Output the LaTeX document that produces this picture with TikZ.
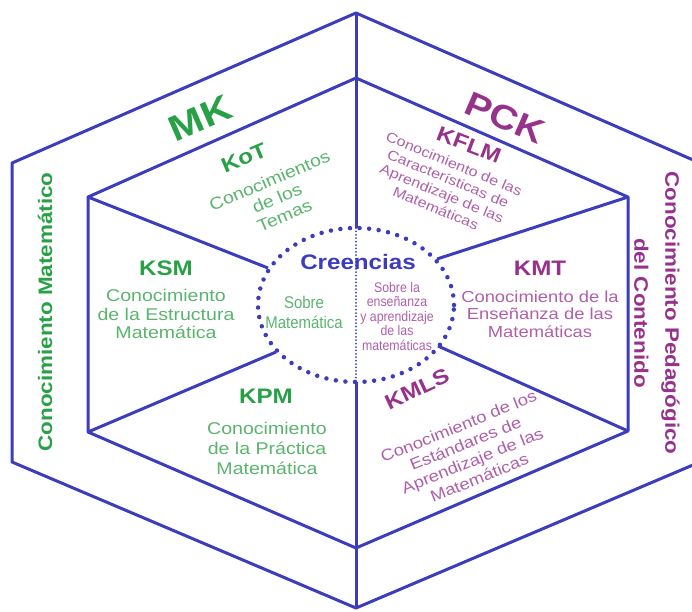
\documentclass[tikz,border=0pt]{standalone}
\usepackage{fontspec}
\setmainfont[FakeStretch=1.15]{Liberation Sans}
\newfontfamily\narrowfont[FakeStretch=0.88]{Liberation Sans}
\usepackage{tikz}
\newcommand{\fsz}[2]{\fontsize{#1}{#2}\selectfont}
\definecolor{hexblue}{RGB}{60,60,190}
\definecolor{mkgreen}{RGB}{40,160,70}
\definecolor{mklight}{RGB}{90,180,110}
\definecolor{pckpurple}{RGB}{150,50,140}
\definecolor{pcklight}{RGB}{175,95,170}
\tikzset{
every node/.style={inner sep=0pt, align=center}}

\begin{document}
\begin{tikzpicture}[x=1pt,y=-1pt,
  hexline/.style={draw=hexblue,line width=3pt,line join=round},
  dotline/.style={draw=hexblue,line width=4.5pt,line cap=round,dash pattern=on 0pt off 9.6pt},
  finedots/.style={draw=hexblue,line width=2pt,line cap=round,dash pattern=on 0pt off 3.4pt},
  bigtitle/.style={font=\bfseries\fsz{36}{40}},
  sidetitle/.style={font=\bfseries\fsz{19.5}{31}},
  mkhead/.style={text=mkgreen,font=\bfseries\fsz{21}{23}},
  pckhead/.style={text=pckpurple,font=\bfseries\fsz{21}{23}},
  mkbody/.style={text=mklight,font=\fsz{17}{18.5}},
  pckbody/.style={text=pcklight,font=\fsz{16}{17.5}}]
\useasboundingbox (0,0) rectangle (692,611);

% corners of the two hexagons
\coordinate (otop) at (356,13);
\coordinate (oright1) at (700,163);
\coordinate (oright2) at (700,462);
\coordinate (obot) at (356,608);
\coordinate (oleft2) at (12,462);
\coordinate (oleft1) at (12,163);
\coordinate (itop) at (356,78);
\coordinate (iright1) at (628,197);
\coordinate (iright2) at (628,431);
\coordinate (ibot) at (356,548);
\coordinate (ileft2) at (88,432);
\coordinate (ileft1) at (88,197);
% where the spokes meet the circle
\coordinate (ctop) at (356,228);
\coordinate (cbot) at (356,382);
\coordinate (cul) at (268,268);
\coordinate (cll) at (276,352);
\coordinate (cur) at (437,259);
\coordinate (clr) at (438,346);

\draw[hexline] (otop) -- (oright1) -- (oright2) -- (obot) -- (oleft2) -- (oleft1) -- cycle;
\draw[hexline] (itop) -- (iright1) -- (iright2) -- (ibot) -- (ileft2) -- (ileft1) -- cycle;
\draw[hexline] (otop) -- (ctop);
\draw[hexline] (cbot) -- (obot);
\draw[hexline] (ileft1) -- (cul);
\draw[hexline] (ileft2) -- (cll);
\draw[hexline] (iright1) -- (cur);
\draw[hexline] (iright2) -- (clr);

\draw[dotline] (356,305) ellipse [x radius=98pt, y radius=77pt];
\draw[finedots] (ctop) -- (cbot);

% outer band
\node[bigtitle,text=mkgreen,rotate=23.5] (mk) at (200,118) {MK};
\node[bigtitle,text=pckpurple,rotate=-23.5,font=\bfseries\fsz{34}{38}] (pck) at (505,118) {PCK};
\node[sidetitle,text=mkgreen,rotate=90] (mkside) at (45,312) {Conocimiento Matemático};
\node[sidetitle,text=pckpurple,rotate=-90] (pckside) at (657,313) {Conocimiento Pedagógico\\del Contenido};

% the six sub-domains
\node[mkhead,rotate=23] (kot) at (244,158) {KoT};
\node[mkbody,rotate=23,font=\fsz{17}{19}] (kottxt) at (277,198) {Conocimientos\\de los\\Temas};
\node[mkhead] (ksm) at (166,268) {KSM};
\node[mkbody] (ksmtxt) at (166,314) {Conocimiento\\de la Estructura\\Matemática};
\node[mkhead] (kpm) at (266,396) {KPM};
\node[mkbody,font=\fsz{17}{20}] (kpmtxt) at (267,448) {Conocimiento\\de la Práctica\\Matemática};
\node[pckhead,rotate=-21] (kflm) at (469,145) {KFLM};
\node[pckbody,rotate=-22.5,font=\fsz{14}{16}] (kflmtxt) at (445,186) {Conocimiento de las\\Características de\\Aprendizaje de las\\Matemáticas};
\node[pckhead] (kmt) at (540,268) {KMT};
\node[pckbody] (kmttxt) at (540,314) {Conocimiento de la\\Enseñanza de las\\Matemáticas};
\node[pckhead,rotate=25] (kmls) at (417,389) {KMLS};
\node[pckbody,rotate=22,font=\fsz{16}{18.5}] (kmlstxt) at (469,452) {Conocimiento de los\\Estándares de\\Aprendizaje de las\\Matemáticas};

% beliefs in the middle
\node[text=hexblue,font=\bfseries\fsz{21}{23}] (creencias) at (358,262) {Creencias};
\node[text=mklight,font=\narrowfont\fsz{17}{20}] (sobremat) at (304,312) {Sobre\\Matemática};
\node[text=pcklight,font=\narrowfont\fsz{14}{14.5}] (sobreens) at (397,316) {Sobre la\\enseñanza\\y aprendizaje\\de las\\matemáticas};
\end{tikzpicture}
\end{document}
